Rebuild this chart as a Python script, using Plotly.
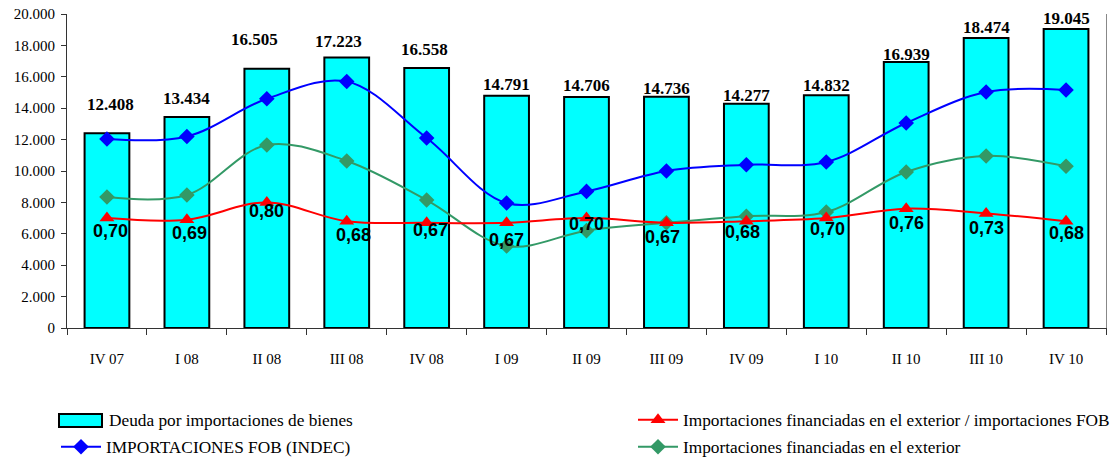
import plotly.graph_objects as go

# Quarterly series (millions of US$) and ratio
quarters = ["IV 07", "I 08", "II 08", "III 08", "IV 08", "I 09", "II 09",
            "III 09", "IV 09", "I 10", "II 10", "III 10", "IV 10"]
deuda = [12408, 13434, 16505, 17223, 16558, 14791, 14706, 14736, 14277,
         14832, 16939, 18474, 19045]
importaciones_fob = [12040, 12200, 14600, 15700, 12100, 7960, 8700, 10000,
                     10400, 10570, 13060, 15030, 15160]
financiadas = [8340, 8470, 11660, 10640, 8150, 5220, 6200, 6700, 7120,
               7390, 9940, 10960, 10300]
ratio = [0.70, 0.69, 0.80, 0.68, 0.67, 0.67, 0.70, 0.67, 0.68, 0.70,
         0.76, 0.73, 0.68]

y_ticks = list(range(0, 20001, 2000))
y_tick_text = ["0"] + [f"{v // 1000}.000" for v in y_ticks[1:]]

# label placement tweaks (pixels)
bar_lbl_up = [29, 19, 29, 16, 19, 11, 12, 8, 8, 10, 8, 10, 10]
bar_lbl_dx = [4, 0, -12, -8, -2, 0, 0, 0, 0, 0, 0, 0, 0]
ratio_lbl_down = [13, 13, 9, 14, 7, 17, 6, 14, 11, 11, 14, 15, 12]
ratio_lbl_dx = [4, 3, 0, 7, 4, 0, 0, -4, -4, 1, 0, 0, 0]

SERIF = "Liberation Serif"
SANS = "Liberation Sans"
W, H = 1114, 457
M_L, M_R, M_T, M_B = 67, 8, 14, 129
PLOT_W, PLOT_H = W - M_L - M_R, H - M_T - M_B
LEGEND_FONT = dict(family=SERIF, size=17.3, color="#000000")


def px_to_paper(px, py):
    return (px - M_L) / PLOT_W, (H - M_B - py) / PLOT_H


fig = go.Figure()

bar_name = "Deuda por importaciones de bienes"
fig.add_trace(go.Bar(
    x=quarters, y=deuda, name=bar_name,
    marker=dict(color="#00FFFF", line=dict(color="#000000", width=2)),
    width=0.56, showlegend=False,
))
fig.add_trace(go.Scatter(
    x=quarters, y=ratio, name="Importaciones financiadas en el exterior / importaciones FOB",
    mode="lines+markers", yaxis="y2",
    line=dict(color="#FF0000", width=2, shape="spline"),
    marker=dict(symbol="triangle-up", size=13, color="#FF0000"),
    legend="legend",
))
fig.add_trace(go.Scatter(
    x=quarters, y=importaciones_fob, name="IMPORTACIONES FOB (INDEC)",
    mode="lines+markers",
    line=dict(color="#0000FF", width=2, shape="spline"),
    marker=dict(symbol="diamond", size=12, color="#0000FF"),
    legend="legend2",
))
fig.add_trace(go.Scatter(
    x=quarters, y=financiadas, name="Importaciones financiadas en el exterior",
    mode="lines+markers",
    line=dict(color="#339966", width=2, shape="spline"),
    marker=dict(symbol="diamond", size=12, color="#339966"),
    legend="legend3",
))

annotations = []
for i, (q, v) in enumerate(zip(quarters, deuda)):
    annotations.append(dict(
        x=q, y=v, xref="x", yref="y", text=f"{v:,}".replace(",", "."),
        showarrow=False, yanchor="middle", yshift=bar_lbl_up[i], xshift=bar_lbl_dx[i],
        font=dict(family=SERIF, size=17, color="#000000", weight="bold"),
    ))
for i, (q, r) in enumerate(zip(quarters, ratio)):
    annotations.append(dict(
        x=q, y=r, xref="x", yref="y2", text=f"{r:.2f}".replace(".", ","),
        showarrow=False, yanchor="middle", yshift=-ratio_lbl_down[i], xshift=ratio_lbl_dx[i],
        font=dict(family=SANS, size=18, color="#000000", weight="bold"),
    ))

# legend entry for the bars: wide swatch plus label
sx0, sy0 = px_to_paper(59, 427)
sx1, sy1 = px_to_paper(102, 414)
tx, ty = px_to_paper(107, 420)
shapes = [dict(type="rect", xref="paper", yref="paper", x0=sx0, x1=sx1, y0=sy0, y1=sy1,
               fillcolor="#00FFFF", line=dict(color="#000000", width=2), layer="above")]
annotations.append(dict(
    x=tx, y=ty, xref="paper", yref="paper", text=bar_name, showarrow=False,
    xanchor="left", yanchor="middle", font=LEGEND_FONT,
))


def legend_box(px, py):
    return dict(
        xref="container", yref="container",
        x=px / W, y=1 - py / H, xanchor="left", yanchor="middle",
        orientation="h", itemwidth=40, font=LEGEND_FONT,
        bgcolor="rgba(0,0,0,0)",
    )


fig.update_layout(
    width=W, height=H,
    margin=dict(l=M_L, r=M_R, t=M_T, b=M_B, autoexpand=False),
    paper_bgcolor="#FFFFFF", plot_bgcolor="#FFFFFF",
    showlegend=True,
    annotations=annotations,
    shapes=shapes,
    legend=legend_box(633, 420),
    legend2=legend_box(56, 447),
    legend3=legend_box(633, 447),
    xaxis=dict(
        type="category", range=[-0.5, 12.5],
        showline=True, linecolor="#333333", linewidth=1,
        ticks="outside", tickson="boundaries", ticklen=6, tickcolor="#333333",
        ticklabelstandoff=17,
        tickfont=dict(family=SERIF, size=15, color="#000000"),
        showgrid=False, zeroline=False,
    ),
    yaxis=dict(
        range=[0, 20000], tickvals=y_ticks, ticktext=y_tick_text,
        showline=True, linecolor="#333333", linewidth=1,
        ticks="outside", ticklen=5, tickcolor="#333333",
        ticklabelstandoff=3,
        tickfont=dict(family=SERIF, size=15, color="#000000"),
        showgrid=False, zeroline=False,
    ),
    yaxis2=dict(
        range=[0, 2], overlaying="y", side="right",
        showline=True, linecolor="#888888", linewidth=1,
        showticklabels=False, ticks="", showgrid=False, zeroline=False,
    ),
)

fig.write_html("out.html")
